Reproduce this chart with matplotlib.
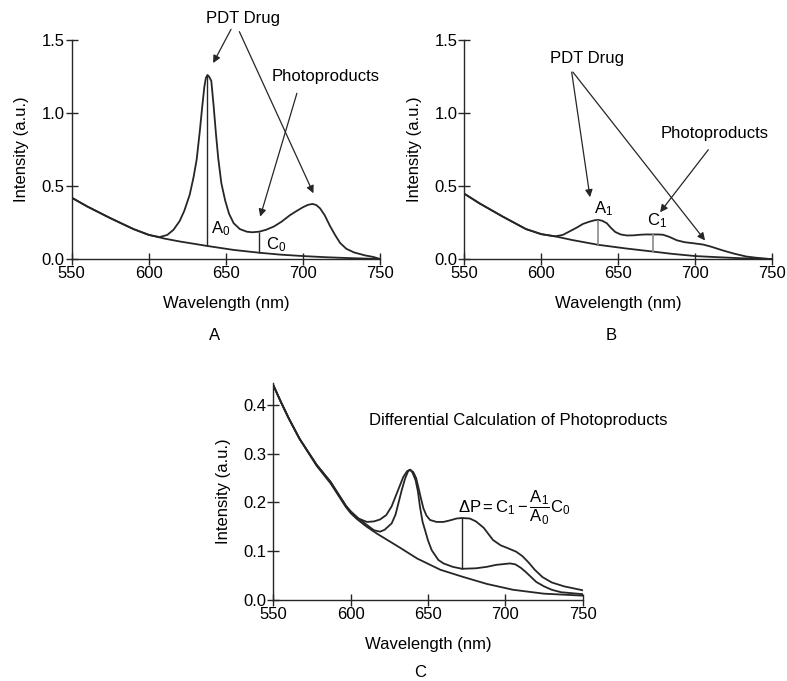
import numpy as np
import matplotlib
matplotlib.use("Agg")
import matplotlib.pyplot as plt

plt.rcParams['font.family'] = ['Liberation Sans', 'DejaVu Sans']
plt.rcParams['mathtext.fontset'] = 'custom'
plt.rcParams['mathtext.rm'] = 'Liberation Sans'
plt.rcParams['mathtext.it'] = 'Liberation Sans:italic'
plt.rcParams['font.size'] = 12

# -----------------------------
# Data
# -----------------------------
# Panel A: before treatment
wl_base_a = [550, 560, 575, 590, 600, 610, 620, 638, 655, 671.5, 685, 700, 715, 730, 740, 750]
base_a = [0.42, 0.36, 0.28, 0.205, 0.165, 0.14, 0.12, 0.089, 0.062, 0.043, 0.03, 0.02, 0.012, 0.006, 0.003, 0.0]

wl_a = [550, 560, 575, 590, 600, 607, 612, 616, 620, 623, 626.5, 629, 631, 633, 634.5, 636,
        637, 638, 639, 640.5, 642, 643.5, 645, 647, 649.5, 652, 655, 659, 663.5, 667, 671.5,
        676, 681, 686, 691.5, 696, 700, 703, 706, 708.5, 711, 714, 717.5, 721, 724, 728, 733,
        740, 745.5, 750]
spec_a = [0.42, 0.36, 0.28, 0.205, 0.165, 0.15, 0.165, 0.2, 0.26, 0.33, 0.44, 0.56, 0.68, 0.87, 1.03, 1.18,
          1.24, 1.26, 1.25, 1.22, 1.05, 0.86, 0.69, 0.52, 0.40, 0.31, 0.245, 0.205, 0.187, 0.183, 0.187,
          0.2, 0.222, 0.255, 0.30, 0.33, 0.355, 0.37, 0.377, 0.37, 0.347, 0.30, 0.225, 0.16, 0.11, 0.07, 0.045,
          0.025, 0.014, 0.0]

# Panel B: after treatment
wl_base_b = [550, 560, 575, 590, 600, 609, 620, 637, 655, 672.3, 685, 700, 715, 730, 750]
base_b = [0.447, 0.38, 0.29, 0.205, 0.17, 0.155, 0.13, 0.097, 0.072, 0.051, 0.035, 0.02, 0.012, 0.005, 0.0]

wl_b = [550, 560, 575, 590, 600, 609, 614, 618.5, 623, 627, 631, 634.5, 637, 639.5, 642.5, 645,
        648, 651.5, 655.5, 660, 664, 668, 672.5, 676, 679, 683, 688, 693, 698.5, 705, 710, 718,
        725, 733, 740, 748, 750]
spec_b = [0.447, 0.38, 0.29, 0.205, 0.17, 0.155, 0.165, 0.19, 0.215, 0.24, 0.255, 0.265, 0.268, 0.262, 0.245, 0.215,
          0.185, 0.168, 0.161, 0.162, 0.166, 0.168, 0.168, 0.168, 0.166, 0.152, 0.128, 0.115, 0.108, 0.099, 0.085, 0.058,
          0.037, 0.017, 0.008, 0.0, 0.0]

# Panel C: differential calculation
wl_base_c = [550, 555, 560, 567, 578, 587, 597, 600, 604, 610, 617, 632, 643, 658, 672, 688, 705, 725, 750]
base_c = [0.44, 0.405, 0.372, 0.33, 0.275, 0.239, 0.19, 0.178, 0.166, 0.151, 0.136, 0.107, 0.085, 0.062, 0.048,
          0.033, 0.021, 0.013, 0.009]

wl_c1 = [550, 555, 560, 567, 578, 587, 597, 600, 605, 610.5, 615, 619, 623, 626.5, 630, 634, 636.5, 638.4,
         640.5, 642.3, 643.7, 645.3, 647, 649, 651.3, 655.5, 660, 664, 668.5, 672, 677, 681, 686, 692, 697,
         701, 707, 711, 715, 719, 724, 730, 738, 750]
spec_c1 = [0.44, 0.405, 0.372, 0.33, 0.277, 0.242, 0.193, 0.182, 0.167, 0.16, 0.161, 0.165, 0.174, 0.192, 0.22,
           0.252, 0.264, 0.267, 0.262, 0.25, 0.232, 0.21, 0.188, 0.173, 0.164, 0.16, 0.16, 0.163, 0.167, 0.168,
           0.167, 0.161, 0.148, 0.123, 0.112, 0.107, 0.099, 0.09, 0.077, 0.062, 0.047, 0.036, 0.028, 0.02]

wl_c2 = [550, 555, 560, 567, 578, 587, 597, 600, 605, 610, 615, 619, 622, 626.5, 629, 631, 633, 635.1, 637,
         638.4, 640, 642, 643.5, 644.8, 646.5, 648.1, 650, 652.4, 656.7, 660, 666, 672, 681, 688, 694, 703,
         706.5, 710, 713, 716, 720, 725, 730, 736, 750]
spec_c2 = [0.44, 0.405, 0.372, 0.33, 0.277, 0.242, 0.192, 0.18, 0.167, 0.155, 0.143, 0.14, 0.144, 0.157, 0.175,
           0.2, 0.225, 0.248, 0.263, 0.267, 0.261, 0.245, 0.222, 0.191, 0.16, 0.143, 0.122, 0.102, 0.082, 0.075,
           0.068, 0.064, 0.065, 0.068, 0.072, 0.075, 0.073, 0.066, 0.058, 0.049, 0.037, 0.028, 0.021, 0.016, 0.012]

# vertical markers: (wavelength, bottom, top)
a0_line = (638, 0.089, 1.26)
c0_line = (671.5, 0.043, 0.187)
a1_line = (637, 0.097, 0.268)
c1_line = (672.3, 0.051, 0.168)
dp_line = (672, 0.064, 0.168)

x_ticks = [550, 600, 650, 700, 750]

LINE = '#262626'
GRAY = '#8a8a8a'


def style_axes(ax, ylim, yticks):
    ax.set_xlim(550, 750)
    ax.set_ylim(*ylim)
    ax.set_xticks(x_ticks)
    ax.set_yticks(yticks)
    ax.set_yticklabels([f'{v:.1f}' for v in yticks])
    for s in ['top', 'right']:
        ax.spines[s].set_visible(False)
    for s in ['left', 'bottom']:
        ax.spines[s].set_linewidth(1.0)
        ax.spines[s].set_color(LINE)
    ax.tick_params(direction='inout', length=8, width=1.0, color=LINE, pad=1)
    ax.set_xlabel('Wavelength (nm)', labelpad=11)
    ax.set_ylabel('Intensity (a.u.)', labelpad=9)


def arrow(ax, start, end):
    ax.annotate('', xy=end, xytext=start, annotation_clip=False,
                arrowprops=dict(arrowstyle='-|>', lw=0.9, color=LINE,
                                mutation_scale=11, shrinkA=0, shrinkB=0))


fig = plt.figure(figsize=(7.87, 6.81), dpi=100)

# -----------------------------
# Panel A
# -----------------------------
ax_a = fig.add_axes([0.0911, 0.6197, 0.3920, 0.3216])
ax_a.plot(wl_base_a, base_a, color=LINE, lw=1.3)
ax_a.plot(wl_a, spec_a, color=LINE, lw=1.3)
ax_a.vlines(a0_line[0], a0_line[1], a0_line[2], color=LINE, lw=1.0)
ax_a.vlines(c0_line[0], c0_line[1], c0_line[2], color=LINE, lw=1.0)
ax_a.text(640, 0.21, 'A$_0$', ha='left', va='center')
ax_a.text(676, 0.1, 'C$_0$', ha='left', va='center')
ax_a.text(661, 1.65, 'PDT Drug', ha='center', va='center')
arrow(ax_a, (653.3, 1.573), (641.7, 1.342))
arrow(ax_a, (658.7, 1.557), (706.7, 0.45))
ax_a.text(714.3, 1.253, 'Photoproducts', ha='center', va='center')
arrow(ax_a, (696, 1.135), (672.2, 0.29))
style_axes(ax_a, (0, 1.5), [0.0, 0.5, 1.0, 1.5])
fig.text(0.272, 0.507, 'A', ha='center', va='center')

# -----------------------------
# Panel B
# -----------------------------
ax_b = fig.add_axes([0.5900, 0.6197, 0.3914, 0.3216])
ax_b.plot(wl_base_b, base_b, color=LINE, lw=1.3)
ax_b.plot(wl_b, spec_b, color=LINE, lw=1.3)
ax_b.vlines(a1_line[0], a1_line[1], a1_line[2], color=GRAY, lw=1.2)
ax_b.vlines(c1_line[0], c1_line[1], c1_line[2], color=GRAY, lw=1.2)
ax_b.text(640.7, 0.345, 'A$_1$', ha='center', va='center')
ax_b.text(675, 0.265, 'C$_1$', ha='center', va='center')
ax_b.text(629.5, 1.371, 'PDT Drug', ha='center', va='center')
arrow(ax_b, (619.7, 1.28), (631.6, 0.423))
arrow(ax_b, (620.5, 1.28), (706.3, 0.127))
ax_b.text(712.8, 0.857, 'Photoproducts', ha='center', va='center')
arrow(ax_b, (708.4, 0.748), (677.1, 0.32))
style_axes(ax_b, (0, 1.5), [0.0, 0.5, 1.0, 1.5])
fig.text(0.776, 0.507, 'B', ha='center', va='center')

# -----------------------------
# Panel C
# -----------------------------
ax_c = fig.add_axes([0.3473, 0.1189, 0.3931, 0.3190])
ax_c.plot(wl_base_c, base_c, color=LINE, lw=1.3)
ax_c.plot(wl_c2, spec_c2, color=LINE, lw=1.3)
ax_c.plot(wl_c1, spec_c1, color=LINE, lw=1.3)
ax_c.vlines(dp_line[0], dp_line[1], dp_line[2], color=LINE, lw=1.0)
ax_c.text(708.2, 0.368, 'Differential Calculation of Photoproducts', ha='center', va='center')
ax_c.text(669.6, 0.19, r'$\Delta\mathrm{P} = \mathrm{C}_1 - \dfrac{\mathrm{A}_1}{\mathrm{A}_0}\mathrm{C}_0$',
          ha='left', va='center')
style_axes(ax_c, (0, 0.445), [0.0, 0.1, 0.2, 0.3, 0.4])
fig.text(0.534, 0.013, 'C', ha='center', va='center')

fig.savefig('out.png', dpi=100)
